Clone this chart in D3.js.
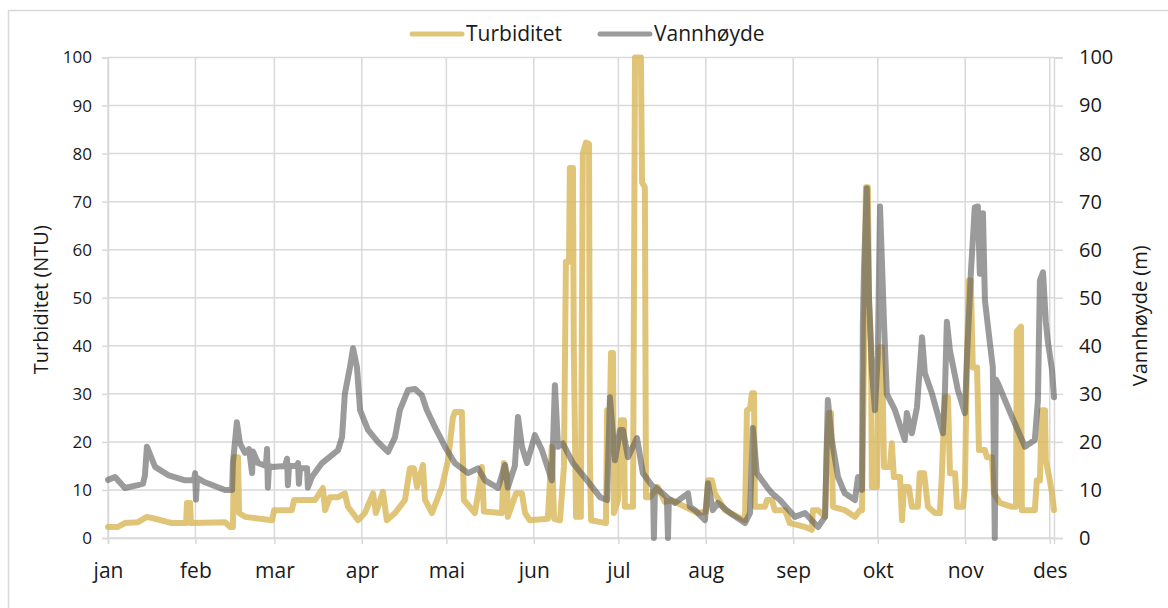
<!DOCTYPE html>
<html><head><meta charset="utf-8">
<script src="https://cdn.jsdelivr.net/npm/d3@7/dist/d3.min.js"></script>
<style>
html,body{margin:0;padding:0;background:#fff;}
svg{display:block;font-family:"Open Sans",sans-serif;}
</style></head>
<body>
<svg id="c" width="1168" height="608"></svg>
<script>
// ---- data ----
const monthLabels = ["jan","feb","mar","apr","mai","jun","jul","aug","sep","okt","nov","des"];
const yTicks = [0,10,20,30,40,50,60,70,80,90,100];
// [day of year (0 = 1 Jan), value]
const turbiditet = [
[0,2.3],[3.5,2.3],[6,3.1],[10.6,3.3],[13.8,4.4],[16.7,4],[22.7,3.1],[27.7,3.1],[28,7.3],[29.1,7.3],[29.4,3.1],
[41.5,3.3],[43.3,2.3],[44.3,2.3],[44.7,16.8],[46.1,16.8],[46.5,5.2],[48.6,4.4],[58.2,3.7],[58.9,5.8],[65.2,5.8],
[66,7.9],[73.4,7.9],[76.2,10.4],[77,5.8],[78.7,8.5],[81.6,8.5],[84,9.3],[85.1,6.5],[88.7,3.7],[91.1,5.2],[94,9.3],
[95,5.2],[97.5,9.6],[98.9,3.7],[101.8,5.2],[105.3,7.9],[107.1,14.5],[108.5,14.5],[109.6,10.6],[111.7,15.2],[112.4,8],
[114.9,5.2],[118.4,10.6],[120.6,16.2],[122.3,25],[123,26.2],[125.5,26.2],[126.2,7.9],[130.1,5.2],[131.9,11.4],
[132.6,14.8],[133.3,5.5],[139.7,5.2],[140.4,15.6],[141.5,13.5],[141.8,4.4],[144.7,9.3],[146.8,9.3],[147.9,5.2],
[149.6,3.7],[156,4],[157.4,19],[158.2,4],[160.3,3.7],[161.7,14.8],[162.4,57.5],[163.5,57.5],[163.8,77],[164.9,77],
[165.2,39],[166,4.4],[167.7,4.4],[168.4,80],[169.5,82.3],[170.6,82],[170.9,16],[171.3,3.7],[176.6,3.1],[177,26.6],
[178,26.6],[178.4,38.5],[179.1,38.5],[179.4,5.2],[180.9,8],[181.9,24.5],[183,24.5],[183.3,6.5],[186.2,6.5],
[186.9,100],[189,100],[189.4,74],[190.4,73],[190.8,8.5],[192.2,8.5],[195,10.6],[197.5,7.5],[199.9,7.9],[204.6,6.5],
[209.2,5.2],[212.1,5.5],[212.8,12],[214.2,12],[215.2,9.3],[218.8,5.8],[223.4,4.4],[225.9,3.7],[226.6,26.6],[227.7,27],
[228.4,30.1],[229.1,30.1],[229.4,6.5],[233,6.5],[233.7,7.9],[235.5,7.9],[236.5,5.8],[240.1,5.8],[241.8,3.1],
[247.2,2.3],[249.6,1.7],[250,5.8],[251.8,5.8],[254.3,4.4],[255,20],[255.7,26],[256.4,26],[257.1,6.5],[261.3,5.8],
[264.9,4.4],[266.7,5.8],[267.4,5.8],[268.1,37],[268.8,73],[269.5,73],[269.9,49],[270.6,40],[270.9,10.6],[272.7,10.6],
[273.4,39.7],[274.5,39.7],[275.2,14.8],[277.3,14.8],[278,19.7],[278.7,12.7],[280.9,12.7],[281.6,3.7],[282.3,10.6],
[284,10.6],[285.1,6.5],[287.2,6.5],[287.9,13.5],[289.4,13.5],[290.8,6.5],[293.3,5.2],[295,5.2],[295.7,12.7],
[296.8,29.3],[297.9,29.3],[298.6,13.5],[300.4,13.5],[301.1,6.5],[303.2,6.5],[303.9,10.6],[304.6,36],[305.3,53.6],
[306,53.6],[306.7,35.5],[308.2,35.5],[308.9,18.3],[311,18.3],[311.7,16.8],[313.5,16.8],[314.2,9.3],[316.3,7.3],
[320.6,6.5],[322,6.5],[322.3,43],[323.8,44],[324.1,5.8],[328.7,5.8],[329.4,12],[330.5,12],[331.2,26.6],[332.3,26.6],
[332.6,16.2],[334,12],[334.8,9.3],[335.5,5.8]
];
const vannhoyde = [
[0,12.1],[2.5,12.7],[6,10.4],[10.6,11],[12.4,11.3],[13.1,13],[13.8,19],[16.7,14.8],[21.3,13.1],[27.3,12],[30.5,12],
[30.9,13.5],[31.2,8],[31.6,12.5],[34.4,11.6],[41.5,10],[44,10],[44.3,15.6],[45.7,24.1],[46.8,19.7],[48.6,17.7],
[50,18.5],[51.1,13.5],[51.4,18],[53.2,15.6],[56,15],[56.4,18.5],[56.7,10.5],[57.1,15],[58.2,14.8],[62.8,15],
[63.5,16.5],[63.8,11],[64.2,15],[67,15],[67.4,15.6],[67.7,11.3],[68.1,14.5],[70.6,14.5],[70.9,10.5],[72.3,12.7],
[75.9,15.6],[81.6,18.3],[83,21],[84,30],[85.8,35.5],[86.9,39.5],[88.3,35.5],[89.4,26.6],[92.2,22.5],[95.7,20],
[99.3,17.9],[101.8,21],[103.5,26.6],[106.4,30.8],[108.9,31],[111.3,29.7],[113.1,26.6],[116,23],[119.5,19],
[123,15.6],[127.7,13.5],[131.2,14.5],[133.7,12],[138.3,10.4],[140.8,15.2],[141.8,10.5],[144.3,15],[145.4,25.2],
[146.8,19],[148.6,15.6],[151.4,21.4],[153.9,18.3],[157.4,12],[158.5,31.8],[159.6,19],[161.3,19.7],[164.9,15.6],
[169.9,12],[174.5,8.5],[177,7.9],[178,29.3],[179.8,16.2],[181.6,22.5],[182.6,22.5],[184.4,16.8],[187.6,20.8],
[189.7,13.5],[193.3,10.6],[193.6,0],[194,10.6],[198.2,8.5],[198.6,0],[198.9,8.2],[201.1,7.3],[205.7,9.3],
[206.4,6.5],[208.2,5.8],[211.7,3.7],[212.8,11.4],[214.5,5.8],[216.3,7.3],[220.6,5.2],[225.9,3.1],[227.7,5.2],
[228.7,22.9],[230.1,13.5],[233.7,10.6],[235.5,9.3],[238.3,7.9],[243.6,4.4],[247.2,5.2],[251.8,2.3],[254.3,4.4],
[255.3,28.7],[256.7,20.4],[258.9,12.7],[261.3,9.3],[264.9,7.9],[266,12.7],[267.4,10],[267.7,44],[268.1,55.7],
[269.1,72.8],[269.9,50],[270.9,35],[272,26.6],[273,38],[273.8,69],[275.2,45],[276.2,30],[279.1,26.6],[282.6,20.4],
[283.3,26],[285.1,21.8],[286.9,27.2],[288.7,41.8],[289.7,34.3],[292.2,30.1],[296.1,21.8],[296.8,30],[297.5,45],
[298.6,39],[301.4,30.8],[303.9,26],[304.6,37],[306,55],[307.4,68.8],[308.5,69],[309.2,55],[310.3,67.6],[311,49.5],
[312.1,43.9],[313.8,35.5],[314.5,0],[314.9,33],[315.6,32.2],[320.6,25.2],[325.2,19],[328.7,20.4],[329.8,28.7],
[330.5,53.6],[331.6,55.3],[332.6,45],[333.3,41],[334.8,35],[335.5,29.3]
];

// ---- layout ----
const svg = d3.select("#c");
const m = {left:108, right:1054, top:57.5, bottom:538};
const t0 = Date.UTC(2021,0,1);
const DAY = 86400000;
const toDate = d => new Date(t0 + d*DAY);
const x = d3.scaleUtc().domain([toDate(0), toDate(335.5)]).range([m.left, m.right]);
const y = d3.scaleLinear().domain([0,100]).range([m.bottom, m.top]);
const grid = "#d9d9d9";

svg.append("rect").attr("x",8.5).attr("y",10.5).attr("width",1300).attr("height",700)
  .attr("fill","#fff").attr("stroke",grid).attr("stroke-width",1.5);

const monthTicks = d3.utcMonth.range(toDate(0), toDate(335.5));

svg.append("g").selectAll("line").data(yTicks).join("line")
  .attr("x1",m.left).attr("x2",m.right).attr("y1",d=>y(d)).attr("y2",d=>y(d))
  .attr("stroke",grid).attr("stroke-width",1.5);
svg.append("g").selectAll("line").data(monthTicks).join("line")
  .attr("x1",d=>x(d)).attr("x2",d=>x(d)).attr("y1",m.top).attr("y2",m.bottom)
  .attr("stroke",grid).attr("stroke-width",1.5);

const axL = d3.axisLeft(y).tickValues(yTicks).tickSize(6).tickPadding(10);
const gL = svg.append("g").attr("transform",`translate(${m.left},0)`).call(axL);
const axR = d3.axisRight(y).tickValues(yTicks).tickSize(9).tickPadding(16);
const gR = svg.append("g").attr("transform",`translate(${m.right},0)`).call(axR);
const axB = d3.axisBottom(x).tickValues(monthTicks).tickSize(6).tickPadding(19)
  .tickFormat(d=>monthLabels[d.getUTCMonth()]);
const gB = svg.append("g").attr("transform",`translate(0,${m.bottom})`).call(axB);
[gL,gR,gB].forEach(g=>{
  g.select(".domain").attr("stroke",grid).attr("stroke-width",1.5);
  g.selectAll(".tick line").attr("stroke",grid).attr("stroke-width",1.5);
  g.selectAll("text").attr("fill","#1a1a1a").style("font-family","'Open Sans',sans-serif");
});
gL.selectAll("text").style("font-size","17px");
gR.selectAll("text").style("font-size","20px");
gB.selectAll("text").style("font-size","21px");

const line = d3.line().x(d=>x(toDate(d[0]))).y(d=>y(d[1]));
svg.append("path").datum(turbiditet).attr("d",line).attr("fill","none")
  .attr("stroke","#d8b757").attr("stroke-opacity",0.8).attr("stroke-width",6)
  .attr("stroke-linejoin","round").attr("stroke-linecap","round");
svg.append("path").datum(vannhoyde).attr("d",line).attr("fill","none")
  .attr("stroke","#595959").attr("stroke-opacity",0.6).attr("stroke-width",6)
  .attr("stroke-linejoin","round").attr("stroke-linecap","round");

svg.append("text").attr("transform",`translate(48,${(m.top+m.bottom)/2+2}) rotate(-90)`)
  .attr("text-anchor","middle").style("font-size","20px").attr("fill","#1a1a1a").text("Turbiditet (NTU)");
svg.append("text").attr("transform",`translate(1147,${(m.top+m.bottom)/2+18}) rotate(-90)`)
  .attr("text-anchor","middle").style("font-size","20px").attr("fill","#1a1a1a").text("Vannhøyde (m)");

const legend = [{name:"Turbiditet", color:"#d8b757", op:0.8, x:410},{name:"Vannhøyde", color:"#595959", op:0.6, x:598}];
const lg = svg.append("g");
legend.forEach(l=>{
  lg.append("line").attr("x1",l.x+2).attr("x2",l.x+52).attr("y1",34).attr("y2",34)
    .attr("stroke",l.color).attr("stroke-opacity",l.op).attr("stroke-width",5).attr("stroke-linecap","round");
  lg.append("text").attr("x",l.x+56).attr("y",41).style("font-size","21px").attr("fill","#1a1a1a").text(l.name);
});
</script>
</body></html>
